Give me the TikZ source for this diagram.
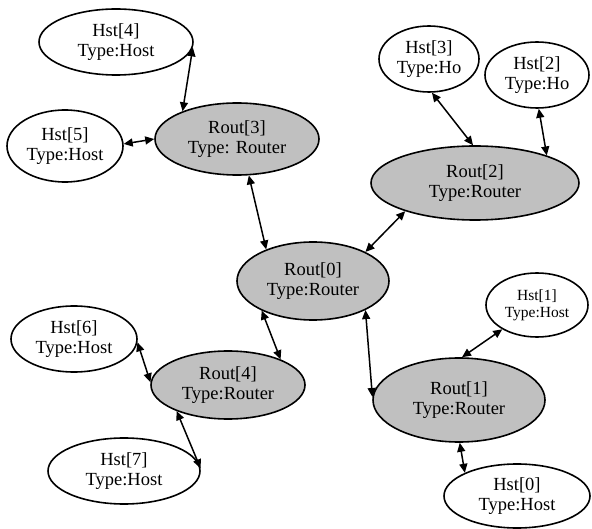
\documentclass[tikz,border=0pt]{standalone}
\usepackage{fontspec}
\setmainfont{Liberation Serif}
\usetikzlibrary{shapes.geometric,arrows.meta}

\tikzset{
  netnode/.style={ellipse, draw=black, line width=1.6pt, inner sep=0pt,
    align=center, font=\fontsize{18.5}{20.5}\selectfont},
  host/.style={netnode, fill=white},
  router/.style={netnode, fill={rgb,255:red,192;green,192;blue,192}},
  smallhost/.style={host, font=\fontsize{15.5}{17}\selectfont},
  link/.style={line width=1.5pt, {Triangle[length=9pt,width=8pt]}-{Triangle[length=9pt,width=8pt]}},
}

\begin{document}
\begin{tikzpicture}[x=1pt,y=-1pt]
\useasboundingbox (0,0) rectangle (592,529);

% routers
\node[router, minimum width=152pt, minimum height=78pt] (r0) at (313,281) {Rout[0]\\Type:Router};
\node[router, minimum width=172pt, minimum height=84pt] (r1) at (459,400) {Rout[1]\\Type:Router};
\node[router, minimum width=208pt, minimum height=74pt] (r2) at (475,183) {Rout[2]\\Type:Router};
\node[router, minimum width=164pt, minimum height=72pt] (r3) at (237,139) {Rout[3]\\Type: Router};
\node[router, minimum width=154pt, minimum height=68pt] (r4) at (228,385) {Rout[4]\\Type:Router};

% hosts
\node[host, minimum width=146pt, minimum height=64pt] (h0) at (517,496) {Hst[0]\\Type:Host};
\node[smallhost, minimum width=102pt, minimum height=64pt] (h1) at (537,305) {Hst[1]\\Type:Host};
\node[host, minimum width=104pt, minimum height=66pt] (h2) at (537,75) {Hst[2]\\Type:Ho};
\node[host, minimum width=100pt, minimum height=66pt] (h3) at (429,59) {Hst[3]\\Type:Ho};
\node[host, minimum width=154pt, minimum height=66pt] (h4) at (116,42) {Hst[4]\\Type:Host};
\node[host, minimum width=116pt, minimum height=72pt] (h5) at (65,146) {Hst[5]\\Type:Host};
\node[host, minimum width=126pt, minimum height=66pt] (h6) at (74,339) {Hst[6]\\Type:Host};
\node[host, minimum width=152pt, minimum height=66pt] (h7) at (124,471) {Hst[7]\\Type:Host};

% links
\draw[link] (h4.-4) -- (r3.153);
\draw[link] (h5.2) -- (r3.180);
\draw[link] (r3.-72) -- (r0.146);
\draw[link] (r2.-158) -- (r0.29);
\draw[link] (h3.-85) -- (r2.93);
\draw[link] (h2.-87) -- (r2.21);
\draw[link] (r0.-29) -- (r1.178);
\draw[link] (h1.-145) -- (r1.86);
\draw[link] (r1.-89) -- (h0.156);
\draw[link] (r0.-150) -- (r4.26);
\draw[link] (h6.-3) -- (r4.178);
\draw[link] (r4.-153) -- (h7.2);
\end{tikzpicture}
\end{document}
